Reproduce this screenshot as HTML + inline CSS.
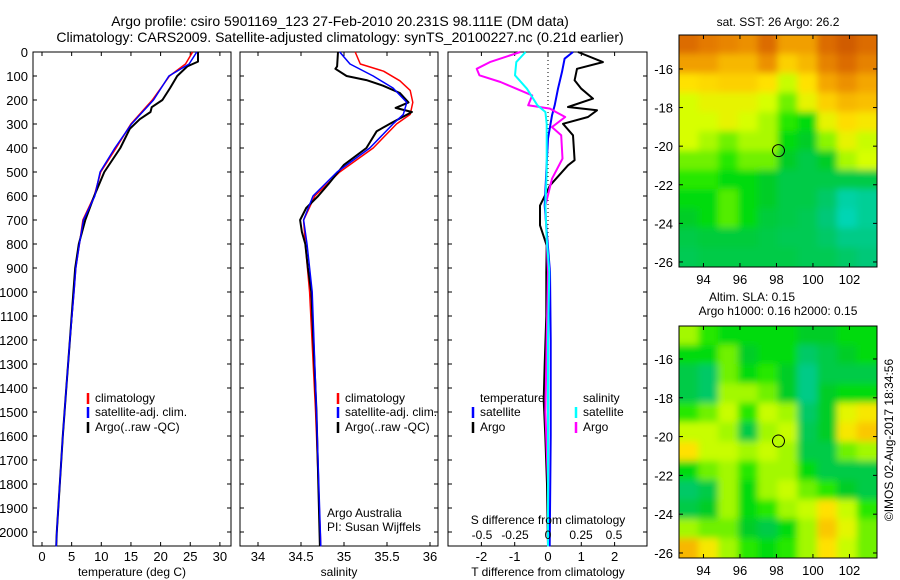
<!DOCTYPE html>
<html><head><meta charset="utf-8">
<style>
body{margin:0;background:#fff;}
svg{display:block;font-family:"Liberation Sans",sans-serif;}
text{fill:#000;}
</style></head>
<body>
<svg id="chart" width="900" height="580" viewBox="0 0 900 580">
<defs>
<filter id="blur" x="-10%" y="-10%" width="120%" height="120%"><feGaussianBlur stdDeviation="3.5"/></filter>
<clipPath id="clipM1"><rect x="679" y="35" width="198" height="232"/></clipPath>
<clipPath id="clipM2"><rect x="679" y="326" width="198" height="232"/></clipPath>
</defs>
<text x="340" y="26" font-size="14" text-anchor="middle">Argo profile: csiro 5901169_123 27-Feb-2010 20.231S 98.111E (DM data)</text>
<text x="340" y="42" font-size="14" text-anchor="middle">Climatology: CARS2009. Satellite-adjusted climatology: synTS_20100227.nc (0.21d earlier)</text>
<g id="g"></g>
</svg>
<script>
// ---- data ----
const depthTicks=[0,100,200,300,400,500,600,700,800,900,1000,1100,1200,1300,1400,1500,1600,1700,1800,1900,2000];
const tempTicks=[0,5,10,15,20,25,30];
const salTicks=[34,34.5,35,35.5,36];
const tdiffTicks=[-2,-1,0,1,2];
const sdiffTicks=[-0.5,-0.25,0,0.25,0.5];
const sdiffTickLabels=["-0.5","-0.25","0","0.25","0.5"];

const tClimDepth=[0,50,100,200,300,400,500,600,700,800,900,1000,1200,1400,1600,1800,2000,2060];
const tClim=[25.4,24.2,21.5,18.6,15.0,12.5,9.9,8.8,6.9,6.3,5.7,5.4,4.7,4.1,3.5,3.0,2.5,2.4];
const tSatDepth=[0,50,100,200,300,400,500,600,700,800,900,1000,1200,1400,1600,1800,2000,2060];
const tSat=[26.1,24.8,21.4,18.8,15.1,12.3,9.8,8.9,7.0,6.3,5.7,5.4,4.7,4.1,3.5,3.0,2.5,2.4];
const tArgoDepth=[0,40,60,100,150,200,230,250,280,320,400,500,600,700,800,900,1000,1200,1400,1600,1800,2000,2060];
const tArgo=[26.3,26.3,24.5,22.8,21.6,20.3,18.5,18.3,16.5,14.8,13.2,10.5,8.8,7.3,6.2,5.6,5.3,4.7,4.1,3.5,3.0,2.5,2.4];

const sClimDepth=[0,50,80,120,160,210,260,300,400,500,600,700,800,1000,1500,2060];
const sClim=[35.13,35.19,35.46,35.65,35.77,35.8,35.77,35.61,35.34,34.95,34.66,34.53,34.55,34.6,34.67,34.73];
const sSatDepth=[0,50,100,150,210,260,300,400,500,600,700,800,1000,1500,2060];
const sSat=[34.95,35.07,35.34,35.57,35.73,35.69,35.57,35.3,34.92,34.64,34.53,34.57,34.63,34.68,34.73];
const sArgoDepth=[0,60,70,100,117,140,171,210,233,250,296,330,400,470,550,600,650,700,750,800,900,1000,1500,2060];
const sArgo=[34.93,34.92,34.9,35.03,35.26,35.45,35.65,35.75,35.6,35.79,35.55,35.38,35.26,35.0,34.82,34.7,34.56,34.49,34.51,34.55,34.58,34.62,34.68,34.72];

const dtSatDepth=[0,28,83,153,222,264,361,500,640,778,917,1200,1600,2060];
const dtSat=[0.75,0.5,0.42,0.3,0.2,0.12,0.0,-0.05,-0.1,-0.02,0.06,0.08,0.08,0.05];
const dtArgoDepth=[0,42,70,118,153,194,229,243,271,299,347,451,472,556,640,722,806,917,1100,1300,1450,1600,1800,2060];
const dtArgo=[0.9,1.65,0.87,0.8,1.0,1.35,0.6,1.47,1.2,0.45,0.75,0.8,0.6,0.06,-0.24,-0.24,-0.04,-0.05,-0.05,-0.1,-0.13,-0.08,-0.03,0.0];
const dsSatDepth=[0,42,97,153,222,250,300,500,640,778,917,1200,1600,2060];
const dsSat=[-0.17,-0.24,-0.25,-0.16,-0.08,-0.02,-0.01,-0.01,-0.02,-0.01,0.01,0.0,0.0,0.0];
const dsArgoDepth=[0,42,70,97,125,153,181,222,236,250,271,313,347,444,528,640,778,917,1200,1500,1800,2060];
const dsArgo=[-0.21,-0.44,-0.54,-0.52,-0.36,-0.24,-0.12,-0.15,0.015,0.06,0.13,0.03,0.1,0.11,0.03,-0.02,-0.01,0.0,-0.01,-0.02,0.0,0.0];

const lonTicks=[94,96,98,100,102];
const latTicks=[-16,-18,-20,-22,-24,-26];
const argoLon=98.111, argoLat=-20.231;
const sstGrid=[
[0.92,0.88,0.85,0.82,0.92,0.78,0.78,0.92,0.97,0.92],
[0.78,0.78,0.72,0.72,0.82,0.66,0.72,0.86,0.92,0.86],
[0.62,0.64,0.66,0.66,0.62,0.5,0.62,0.76,0.82,0.76],
[0.52,0.56,0.56,0.56,0.52,0.4,0.56,0.66,0.72,0.7],
[0.52,0.52,0.56,0.52,0.46,0.35,0.3,0.56,0.63,0.6],
[0.52,0.46,0.4,0.46,0.46,0.3,0.25,0.42,0.56,0.5],
[0.4,0.4,0.35,0.4,0.4,0.25,0.2,0.25,0.46,0.52],
[0.35,0.35,0.3,0.3,0.25,0.2,0.2,0.2,0.2,0.2],
[0.3,0.3,0.38,0.3,0.25,0.2,0.2,0.15,0.06,0.08],
[0.25,0.3,0.38,0.3,0.22,0.2,0.18,0.12,0.04,0.08],
[0.2,0.22,0.22,0.22,0.2,0.18,0.18,0.15,0.1,0.1],
[0.18,0.2,0.2,0.2,0.2,0.2,0.18,0.18,0.15,0.12]];
const slaGrid=[
[0.45,0.35,0.3,0.3,0.3,0.3,0.25,0.25,0.3,0.3],
[0.3,0.3,0.4,0.25,0.3,0.3,0.15,0.2,0.25,0.3],
[0.2,0.15,0.4,0.3,0.35,0.25,0.1,0.2,0.2,0.2],
[0.2,0.15,0.45,0.45,0.4,0.25,0.1,0.25,0.3,0.3],
[0.35,0.4,0.5,0.35,0.5,0.45,0.15,0.25,0.55,0.6],
[0.5,0.5,0.45,0.2,0.45,0.5,0.18,0.25,0.6,0.68],
[0.62,0.5,0.5,0.45,0.5,0.45,0.2,0.2,0.4,0.45],
[0.3,0.4,0.45,0.35,0.45,0.45,0.3,0.2,0.2,0.2],
[0.15,0.2,0.45,0.3,0.45,0.5,0.4,0.35,0.25,0.2],
[0.2,0.25,0.45,0.3,0.35,0.45,0.5,0.62,0.5,0.35],
[0.45,0.4,0.4,0.25,0.2,0.3,0.45,0.68,0.55,0.4],
[0.72,0.6,0.45,0.35,0.3,0.35,0.45,0.62,0.5,0.4]];

// ---- helpers ----
const NS="http://www.w3.org/2000/svg";
const G=document.getElementById('g');
function mk(tag,attrs,parent){const e=document.createElementNS(NS,tag);for(const k in attrs)e.setAttribute(k,attrs[k]);(parent||G).appendChild(e);return e;}
function txt(x,y,s,size,anchor,parent){const t=mk('text',{x:x,y:y,'font-size':size,'text-anchor':anchor||'middle'},parent);t.textContent=s;return t;}
const Y0=52, PXD=0.24;
const yD=d=>Y0+d*PXD;
const BOT=546;
const xT=v=>42+v*5.93;
const xS=v=>258+(v-34)*86;
const xDT=v=>548+v*33.3;
const xDS=v=>548+v*132;

function panel(x0,x1,name){
  const r=mk('rect',{x:x0,y:Y0,width:x1-x0,height:BOT-Y0,fill:'none',stroke:'#000','stroke-width':1});
  
  
  depthTicks.forEach(d=>{
    mk('line',{x1:x0,x2:x0+4,y1:yD(d),y2:yD(d),stroke:'#000'});
    mk('line',{x1:x1,x2:x1-4,y1:yD(d),y2:yD(d),stroke:'#000'});
  });
}
function xticks(x0,x1,ticks,f,labels){
  ticks.forEach((v,i)=>{
    const x=f(v);
    mk('line',{x1:x,x2:x,y1:BOT,y2:BOT-4,stroke:'#000'});
    mk('line',{x1:x,x2:x,y1:Y0,y2:Y0+4,stroke:'#000'});
    const t=txt(x,561,labels?labels[i]:String(v),13);
    
    
  });
}
function line(depths,vals,f,color,w,name){
  const pts=depths.map((d,i)=>f(vals[i]).toFixed(1)+','+yD(d).toFixed(1)).join(' ');
  const p=mk('polyline',{points:pts,fill:'none',stroke:color,'stroke-width':w,'stroke-linejoin':'round'});
  
  
}
function legend(x,y,color,label){
  mk('line',{x1:x,x2:x,y1:y-9,y2:y+2,stroke:color,'stroke-width':2.5});
  const t=txt(x+7,y,label,12,'start');
  
  
}

// depth labels
depthTicks.forEach(d=>{const t=txt(28,yD(d)+5,String(d),13,'end');
  
  });

// panel 1
panel(33,231,'temperature-panel');
xticks(33,231,tempTicks,xT);
line(tClimDepth,tClim,xT,'#f00',1.5,'temp-climatology-line');
line(tArgoDepth,tArgo,xT,'#000',2,'temp-argo-line');
line(tSatDepth,tSat,xT,'#00f',1.5,'temp-satellite-line');
let t=txt(132,576,'temperature (deg C)',12);
legend(88,402,'#f00','climatology');legend(88,416,'#00f','satellite-adj. clim.');legend(88,431,'#000','Argo(..raw -QC)');

// panel 2
panel(240,438,'salinity-panel');
xticks(240,438,salTicks,xS);
line(sClimDepth,sClim,xS,'#f00',1.5,'sal-climatology-line');
line(sArgoDepth,sArgo,xS,'#000',2,'sal-argo-line');
line(sSatDepth,sSat,xS,'#00f',1.5,'sal-satellite-line');
t=txt(339,576,'salinity',12);
legend(338,402,'#f00','climatology');legend(338,416,'#00f','satellite-adj. clim.');legend(338,431,'#000','Argo(..raw -QC)');
t=txt(327,517,'Argo Australia',12,'start');
t=txt(327,531,'PI: Susan Wijffels',12,'start');

// panel 3
panel(448,647,'difference-panel');
xticks(448,647,tdiffTicks,xDT);
mk('line',{x1:548,x2:548,y1:Y0,y2:260,stroke:'#000','stroke-dasharray':'1,3'});
line(dtArgoDepth,dtArgo,xDT,'#000',2,'tdiff-argo-line');
line(dtSatDepth,dtSat,xDT,'#00f',2,'tdiff-satellite-line');
line(dsArgoDepth,dsArgo,xDS,'#f0f',2,'sdiff-argo-line');
line(dsSatDepth,dsSat,xDS,'#0ff',2,'sdiff-satellite-line');
sdiffTicks.forEach((v,i)=>{const tt=txt(xDS(v),539,sdiffTickLabels[i],12);
  
  });
t=txt(548,524,'S difference from climatology',12);
t=txt(548,576,'T difference from climatology',12);
t=txt(480,402,'temperature',12,'start');
t=txt(583,402,'salinity',12,'start');
legend(473,416,'#00f','satellite');legend(473,431,'#000','Argo');
legend(576,416,'#0ff','satellite');legend(576,431,'#f0f','Argo');

// maps
const stops=[[0,[0,220,210]],[0.12,[0,200,120]],[0.25,[0,205,40]],[0.33,[10,228,0]],[0.42,[140,245,0]],[0.52,[215,255,0]],[0.62,[255,225,0]],[0.75,[245,170,0]],[0.9,[225,115,0]],[1,[200,80,0]]];
function cmap(v){for(let i=1;i<stops.length;i++){if(v<=stops[i][0]){const a=stops[i-1],b=stops[i],f=(v-a[0])/(b[0]-a[0]);
  return 'rgb('+a[1].map((c,k)=>Math.round(c+(b[1][k]-c)*f)).join(',')+')';}}return 'rgb(200,80,0)';}
function map(grid,top,clip,name,latTop,pxLat){
  const L=679,R=877,B=top+232;
  const xL=lon=>L+(lon-92.66)*18.25;
  const yL=lat=>top+(latTop-lat)*pxLat;
  const g=mk('g',{'clip-path':'url(#'+clip+')'});
  
  
  const inner=mk('g',{filter:'url(#blur)'},g);
  const nr=grid.length,nc=grid[0].length,cw=(R-L)/nc,ch=232/nr;
  grid.forEach((row,i)=>row.forEach((v,j)=>{
    const c=mk('rect',{x:L+j*cw-(j==0?8:0.5),y:top+i*ch-(i==0?8:0.5),width:cw+(j==0||j==nc-1?9:1),height:ch+(i==0||i==nr-1?9:1),fill:cmap(v)},inner);
    
    
  }));
  mk('rect',{x:L,y:top,width:R-L,height:232,fill:'none',stroke:'#000'});
  lonTicks.forEach(v=>{const x=xL(v);mk('line',{x1:x,x2:x,y1:B,y2:B-4,stroke:'#000'});mk('line',{x1:x,x2:x,y1:top,y2:top+4,stroke:'#000'});
    const tt=txt(x,B+17,String(v),13);});
  latTicks.forEach(v=>{const y=yL(v);mk('line',{x1:L,x2:L+4,y1:y,y2:y,stroke:'#000'});mk('line',{x1:R,x2:R-4,y1:y,y2:y,stroke:'#000'});
    const tt=txt(673,y+5,String(v),13,'end');});
  const c=mk('circle',{cx:xL(argoLon),cy:yL(argoLat),r:6,fill:'none',stroke:'#000'});
  
  
}
map(sstGrid,35,'clipM1','sst-map',-14.24,19.3);
map(slaGrid,326,'clipM2','sla-map',-14.3,19.4);
t=txt(778,26,'sat. SST: 26 Argo: 26.2',12);
t=txt(752,301,'Altim. SLA: 0.15',12);
t=txt(778,315,'Argo h1000: 0.16 h2000: 0.15',12);
t=txt(0,0,'©IMOS 02-Aug-2017 18:34:56',12);t.setAttribute('transform','translate(893,440) rotate(-90)');

</script>
</body></html>
